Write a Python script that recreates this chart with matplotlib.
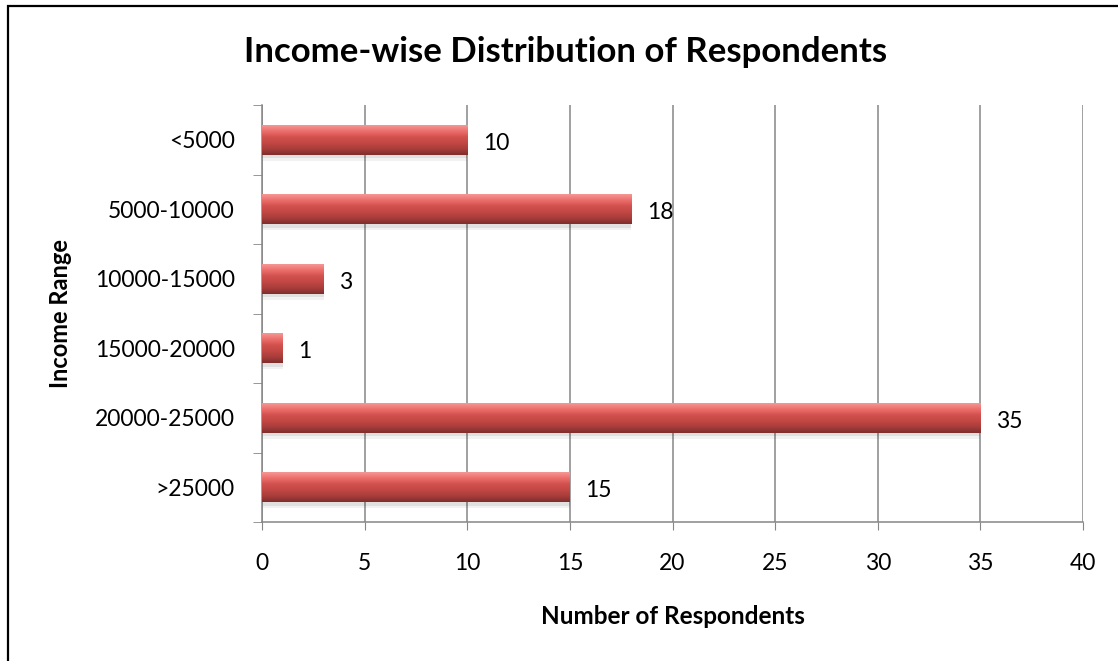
import numpy as np
import matplotlib
matplotlib.use("Agg")
import matplotlib.pyplot as plt
from matplotlib.colors import LinearSegmentedColormap
from matplotlib.patches import Rectangle

# data
categories = ["<5000", "5000-10000", "10000-15000", "15000-20000", "20000-25000", ">25000"]
respondents = [10, 18, 3, 1, 35, 15]
x_ticks = [0, 5, 10, 15, 20, 25, 30, 35, 40]

plt.rcParams['font.family'] = ['Lato', 'DejaVu Sans']

fig = plt.figure(figsize=(11.18, 6.61), dpi=100)
ax = fig.add_axes([262 / 1118, 1 - 522 / 661, (1083 - 262) / 1118, (522 - 105) / 661])

# outer chart border (cropped at right/bottom in reference)
fig.patches.append(Rectangle((8 / 1118, -0.05), 1.2, 1 - 6 / 661 + 0.05,
                             transform=fig.transFigure, fill=False,
                             edgecolor="black", lw=1.6))

y = np.arange(len(categories))
bar_h = 0.43
bars = ax.barh(y, respondents, height=bar_h, color="#C0504D", zorder=3)

# glossy vertical gradient on each bar
grad_cmap = LinearSegmentedColormap.from_list(
    "bevel", ["#F49794", "#EC6E6B", "#D2514E", "#C24744", "#A83D3B", "#7F2E2C"])
grad = np.linspace(0, 1, 64).reshape(-1, 1)
for b in bars:
    x0, y0 = b.get_x(), b.get_y()
    w, h = b.get_width(), b.get_height()
    # soft shadow beneath
    ax.add_patch(Rectangle((x0, y0 + h), w, 0.05, color="#000000", alpha=0.12,
                           lw=0, zorder=2))
    ax.add_patch(Rectangle((x0, y0 + h + 0.05), w, 0.04, color="#000000", alpha=0.05,
                           lw=0, zorder=2))
    im = ax.imshow(grad, cmap=grad_cmap, aspect="auto",
                   extent=[x0, x0 + w, y0 + h, y0], zorder=4,
                   interpolation="bicubic")
    im.set_clip_path(b)
    ax.text(x0 + w + 0.75, y0 + h / 2 + 0.05, str(int(w)), va="center", ha="left",
            fontsize=16.5, zorder=5)

ax.set_xlim(0, 40)
ax.set_ylim(len(categories) - 0.5, -0.5)
ax.set_xticks(x_ticks)
ax.set_xticklabels([str(t) for t in x_ticks], fontsize=16.5)
ax.set_yticks(y)
ax.set_yticklabels(categories, fontsize=16.5)
ax.set_yticks(np.arange(-0.5, len(categories)), minor=True)
ax.tick_params(axis="y", which="major", length=0, pad=19.5)
ax.tick_params(axis="y", which="minor", length=6.5, color="#868686", direction="out")
ax.tick_params(axis="x", length=6, color="#868686", direction="out", pad=16.5)

ax.grid(axis="x", color="#868686", lw=1.1, zorder=0)
ax.set_axisbelow(True)
for s in ["top", "right"]:
    ax.spines[s].set_visible(False)
for s in ["left", "bottom"]:
    ax.spines[s].set_color("#868686")
    ax.spines[s].set_linewidth(1.1)

ax.set_xlabel("Number of Respondents", fontsize=17.5, fontweight="bold")
ax.xaxis.set_label_coords(0.5, (522 - 617) / 417)
ax.xaxis.label.set_va("center")
ax.set_ylabel("Income Range", fontsize=17, fontweight="bold")
ax.yaxis.set_label_coords((60 - 262) / 821, 0.5)
ax.yaxis.label.set_va("center")
fig.text(566 / 1118, 1 - 52 / 661, "Income-wise Distribution of Respondents",
         ha="center", va="center", fontsize=25, fontweight="bold")

fig.savefig("out.png", dpi=100, facecolor="white")
